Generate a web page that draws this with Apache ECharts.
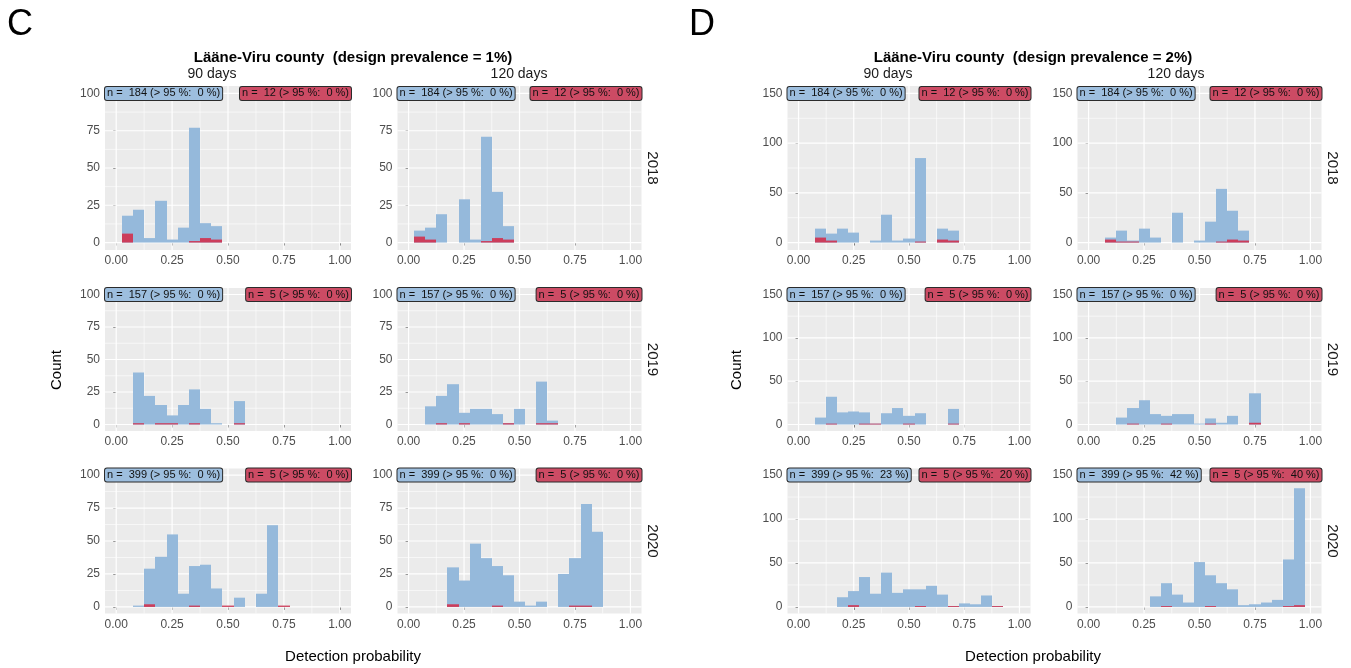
<!DOCTYPE html>
<html><head><meta charset="utf-8">
<script src="https://cdn.jsdelivr.net/npm/echarts@6/dist/echarts.min.js"></script>
<style>html,body{margin:0;padding:0;background:#fff}#c{width:1351px;height:668px}</style>
</head><body><div id="c"></div>
<script>
// ---------- data ----------
const binCenters = [0.00,0.05,0.10,0.15,0.20,0.25,0.30,0.35,0.40,0.45,0.50,0.55,0.60,0.65,0.70,0.75,0.80,0.85,0.90,0.95,1.00];
const xTicks = [0, 0.25, 0.5, 0.75, 1];
const xTickLabels = ['0.00','0.25','0.50','0.75','1.00'];
const yTicksC = [0, 25, 50, 75, 100];
const yTicksD = [0, 50, 100, 150];
const years = ['2018','2019','2020'];
const windows = ['90 days','120 days'];
const panelLetters = ['C','D'];
const titles = ['Lääne-Viru county  (design prevalence = 1%)', 'Lääne-Viru county  (design prevalence = 2%)'];
const xTitle = 'Detection probability';
const yTitle = 'Count';

// C (design prevalence 1%)
const C_2018_90_all  = [0,18,22,3,28,2,10,77,13,11,0,0,0,0,0,0,0,0,0,0,0];
const C_2018_90_red  = [0,6,0,0,0,0,0,1,3,2,0,0,0,0,0,0,0,0,0,0,0];
const C_2018_120_all = [0,8,10,19,0,29,2,71,34,11,0,0,0,0,0,0,0,0,0,0,0];
const C_2018_120_red = [0,4,2,0,0,0,0,1,3,2,0,0,0,0,0,0,0,0,0,0,0];
const C_2019_90_all  = [0,0,40,22,15,7,15,27,12,1,0,18,0,0,0,0,0,0,0,0,0];
const C_2019_90_red  = [0,0,1,0,1,1,0,1,0,0,0,1,0,0,0,0,0,0,0,0,0];
const C_2019_120_all = [0,0,14,22,31,9,12,12,8,1,12,0,33,3,0,0,0,0,0,0,0];
const C_2019_120_red = [0,0,0,1,0,1,0,0,0,1,0,0,1,1,0,0,0,0,0,0,0];
const C_2020_90_all  = [0,0,1,29,38,55,10,31,32,14,0,7,0,10,62,0,0,0,0,0,0];
const C_2020_90_red  = [0,0,0,2,0,0,0,1,0,0,1,0,0,0,0,1,0,0,0,0,0];
const C_2020_120_all = [0,0,0,0,30,20,48,37,31,24,4,1,4,0,25,37,78,57,0,0,0];
const C_2020_120_red = [0,0,0,0,2,0,0,0,1,0,0,0,0,0,0,1,1,0,0,0,0];
// D (design prevalence 2%)
const D_2018_90_all  = [0,0,14,9,14,10,0,2,28,2,4,85,0,14,12,0,0,0,0,0,0];
const D_2018_90_red  = [0,0,5,2,0,0,0,0,0,0,0,1,0,3,2,0,0,0,0,0,0];
const D_2018_120_all = [0,0,5,12,2,14,5,0,30,0,2,21,54,32,12,0,0,0,0,0,0];
const D_2018_120_red = [0,0,3,1,1,0,0,0,0,0,0,0,1,3,2,0,0,0,0,0,0];
const D_2019_90_all  = [0,0,8,32,14,15,14,1,13,19,10,13,0,0,18,0,0,0,0,0,0];
const D_2019_90_red  = [0,0,0,1,0,0,1,1,0,0,1,0,0,0,1,0,0,0,0,0,0];
const D_2019_120_all = [0,0,0,8,19,28,12,10,12,12,1,7,2,10,0,36,0,0,0,0,0];
const D_2019_120_red = [0,0,0,0,1,0,0,1,0,0,0,1,0,0,0,2,0,0,0,0,0];
const D_2020_90_all  = [0,0,0,0,11,18,34,15,39,16,20,20,24,14,1,4,3,13,1,0,0];
const D_2020_90_red  = [0,0,0,0,0,2,0,0,0,0,0,1,0,0,1,0,0,0,1,0,0];
const D_2020_120_all = [0,0,0,0,0,0,12,27,14,5,51,36,27,20,2,3,5,8,54,135,0];
const D_2020_120_red = [0,0,0,0,0,0,0,1,0,0,0,1,0,0,0,0,0,0,1,2,0];

// label texts  [year][window]
const C_blueLabels = [['n =  184 (> 95 %:  0 %)','n =  184 (> 95 %:  0 %)'],['n =  157 (> 95 %:  0 %)','n =  157 (> 95 %:  0 %)'],['n =  399 (> 95 %:  0 %)','n =  399 (> 95 %:  0 %)']];
const C_redLabels  = [['n =  12 (> 95 %:  0 %)','n =  12 (> 95 %:  0 %)'],['n =  5 (> 95 %:  0 %)','n =  5 (> 95 %:  0 %)'],['n =  5 (> 95 %:  0 %)','n =  5 (> 95 %:  0 %)']];
const D_blueLabels = [['n =  184 (> 95 %:  0 %)','n =  184 (> 95 %:  0 %)'],['n =  157 (> 95 %:  0 %)','n =  157 (> 95 %:  0 %)'],['n =  399 (> 95 %:  23 %)','n =  399 (> 95 %:  42 %)']];
const D_redLabels  = [['n =  12 (> 95 %:  0 %)','n =  12 (> 95 %:  0 %)'],['n =  5 (> 95 %:  0 %)','n =  5 (> 95 %:  0 %)'],['n =  5 (> 95 %:  20 %)','n =  5 (> 95 %:  40 %)']];

// ---------- layout / style ----------
const FONT = '"Liberation Sans", Arial, sans-serif';
const BLUE = '#95B9DB', RED = '#CC3D5B', BLUE_LBL = '#9DBEDE', RED_LBL = '#CC4B64';
const colLeft  = [[105, 397.5], [787.5, 1077.5]];
const colWidth = [[246, 244], [243, 244]];
const rowTop = [86, 288, 468.5];
const rowHeight = [164, 143, 145];
const figCfg = [
  {all: [[C_2018_90_all, C_2018_120_all],[C_2019_90_all, C_2019_120_all],[C_2020_90_all, C_2020_120_all]],
   red: [[C_2018_90_red, C_2018_120_red],[C_2019_90_red, C_2019_120_red],[C_2020_90_red, C_2020_120_red]],
   bl: C_blueLabels, rl: C_redLabels, yTicks: yTicksC, yMax: 100},
  {all: [[D_2018_90_all, D_2018_120_all],[D_2019_90_all, D_2019_120_all],[D_2020_90_all, D_2020_120_all]],
   red: [[D_2018_90_red, D_2018_120_red],[D_2019_90_red, D_2019_120_red],[D_2020_90_red, D_2020_120_red]],
   bl: D_blueLabels, rl: D_redLabels, yTicks: yTicksD, yMax: 150}
];

const grids = [], xAxes = [], yAxes = [], series = [];

function barRenderer(color) {
  return function (params, api) {
    const c = api.value(0), n = api.value(1);
    if (!n) return null;
    const p0 = api.coord([c - 0.025, n]);
    const p1 = api.coord([c + 0.025, 0]);
    const x0 = Math.round(p0[0]), x1 = Math.round(p1[0]);
    return {type: 'rect', shape: {x: x0, y: p0[1], width: x1 - x0, height: p1[1] - p0[1]},
            style: {fill: color}};
  };
}
function gridRenderer(params, api) {
  const cs = params.coordSys;
  const orient = api.value(0), v = api.value(1), major = api.value(2);
  let shape;
  if (orient === 0) {
    const x = api.coord([v, 0])[0];
    shape = {x1: x, y1: cs.y, x2: x, y2: cs.y + cs.height};
  } else {
    const y = api.coord([0, v])[1];
    shape = {x1: cs.x, y1: y, x2: cs.x + cs.width, y2: y};
  }
  return {type: 'line', shape, style: {stroke: '#FFFFFF', lineWidth: major ? 1.2 : 0.6}};
}
function labelRenderer(text, fill, align) {
  return function (params, api) {
    const p = api.coord([api.value(0), api.value(1)]);
    return {type: 'text', x: p[0], y: p[1],
      style: {text, font: '11px ' + FONT, fill: '#111', align, verticalAlign: 'middle',
        backgroundColor: fill, borderColor: '#2b2b2b', borderWidth: 1, borderRadius: 2, padding: [1, 2, 1, 2]}};
  };
}

let gi = 0;
figCfg.forEach((fig, f) => {
  const yMin = -0.05 * fig.yMax, yMax = 1.05 * fig.yMax;
  const xMin = -0.05, xMax = 1.05;
  const gl = [];
  xTicks.forEach(v => gl.push([0, v, 1]));
  for (let i = 0; i < xTicks.length - 1; i++) gl.push([0, (xTicks[i] + xTicks[i + 1]) / 2, 0]);
  fig.yTicks.forEach(v => gl.push([1, v, 1]));
  for (let i = 0; i < fig.yTicks.length - 1; i++) gl.push([1, (fig.yTicks[i] + fig.yTicks[i + 1]) / 2, 0]);

  for (let r = 0; r < 3; r++) {
    for (let c = 0; c < 2; c++) {
      grids.push({left: colLeft[f][c], top: rowTop[r], width: colWidth[f][c], height: rowHeight[r],
        show: true, backgroundColor: '#EBEBEB', borderWidth: 0, containLabel: false});
      xAxes.push({gridIndex: gi, type: 'value', min: xMin, max: xMax,
        axisLine: {show: false}, splitLine: {show: false},
        axisTick: {show: true, customValues: xTicks, length: 3, lineStyle: {color: '#333', width: 1}},
        axisLabel: {customValues: xTicks, color: '#4D4D4D', fontSize: 12, fontFamily: FONT, margin: 5,
          formatter: v => xTickLabels[xTicks.findIndex(t => Math.abs(t - v) < 1e-9)] ?? v.toFixed(2)}});
      yAxes.push({gridIndex: gi, type: 'value', min: yMin, max: yMax,
        axisLine: {show: false}, splitLine: {show: false},
        axisTick: {show: true, customValues: fig.yTicks, length: 3, lineStyle: {color: '#333', width: 1}},
        axisLabel: {customValues: fig.yTicks, color: '#4D4D4D', fontSize: 12, fontFamily: FONT, margin: 5,
          formatter: v => String(v)}});
      series.push({type: 'custom', xAxisIndex: gi, yAxisIndex: gi, z: 1, silent: true, animation: false,
        renderItem: gridRenderer, data: gl});
      series.push({type: 'custom', xAxisIndex: gi, yAxisIndex: gi, z: 2, silent: true, animation: false,
        renderItem: barRenderer(BLUE), data: binCenters.map((b, k) => [b, fig.all[r][c][k]])});
      series.push({type: 'custom', xAxisIndex: gi, yAxisIndex: gi, z: 3, silent: true, animation: false,
        renderItem: barRenderer(RED), data: binCenters.map((b, k) => [b, fig.red[r][c][k]])});
      series.push({type: 'custom', xAxisIndex: gi, yAxisIndex: gi, z: 4, silent: true, animation: false,
        renderItem: labelRenderer(fig.bl[r][c], BLUE_LBL, 'left'), data: [[xMin, fig.yMax]]});
      series.push({type: 'custom', xAxisIndex: gi, yAxisIndex: gi, z: 4, silent: true, animation: false,
        renderItem: labelRenderer(fig.rl[r][c], RED_LBL, 'right'), data: [[xMax, fig.yMax]]});
      gi++;
    }
  }
});

// ---------- text elements ----------
const graphics = [];
function txt(x, y, text, font, align, rotation, fill) {
  graphics.push({type: 'text', x, y, silent: true, rotation: rotation || 0,
    style: {text, font, fill: fill || '#000', align: align || 'center', verticalAlign: 'middle'}});
}
const figCenter = [353, 1033];
const figLetterX = [7, 689];
const windowX = [[212, 519], [888, 1176]];
const rowLabelX = [652, 1332];
const countX = [57, 737];
for (let f = 0; f < 2; f++) {
  txt(figLetterX[f], 25, panelLetters[f], '36px ' + FONT, 'left');
  txt(figCenter[f], 58, titles[f], 'bold 15px ' + FONT);
  for (let c = 0; c < 2; c++) txt(windowX[f][c], 74, windows[c], '14px ' + FONT, 'center', 0, '#1a1a1a');
  for (let r = 0; r < 3; r++) txt(rowLabelX[f], rowTop[r] + rowHeight[r] / 2, years[r], '15px ' + FONT, 'center', -Math.PI / 2, '#1a1a1a');
  txt(countX[f], 370, yTitle, '15px ' + FONT, 'center', Math.PI / 2);
  txt(figCenter[f], 657, xTitle, '15px ' + FONT);
}

const chart = echarts.init(document.getElementById('c'), null, {renderer: 'canvas'});
chart.setOption({
  animation: false,
  backgroundColor: '#FFFFFF',
  grid: grids, xAxis: xAxes, yAxis: yAxes, series,
  graphic: {elements: graphics}
});
</script>
</body></html>
